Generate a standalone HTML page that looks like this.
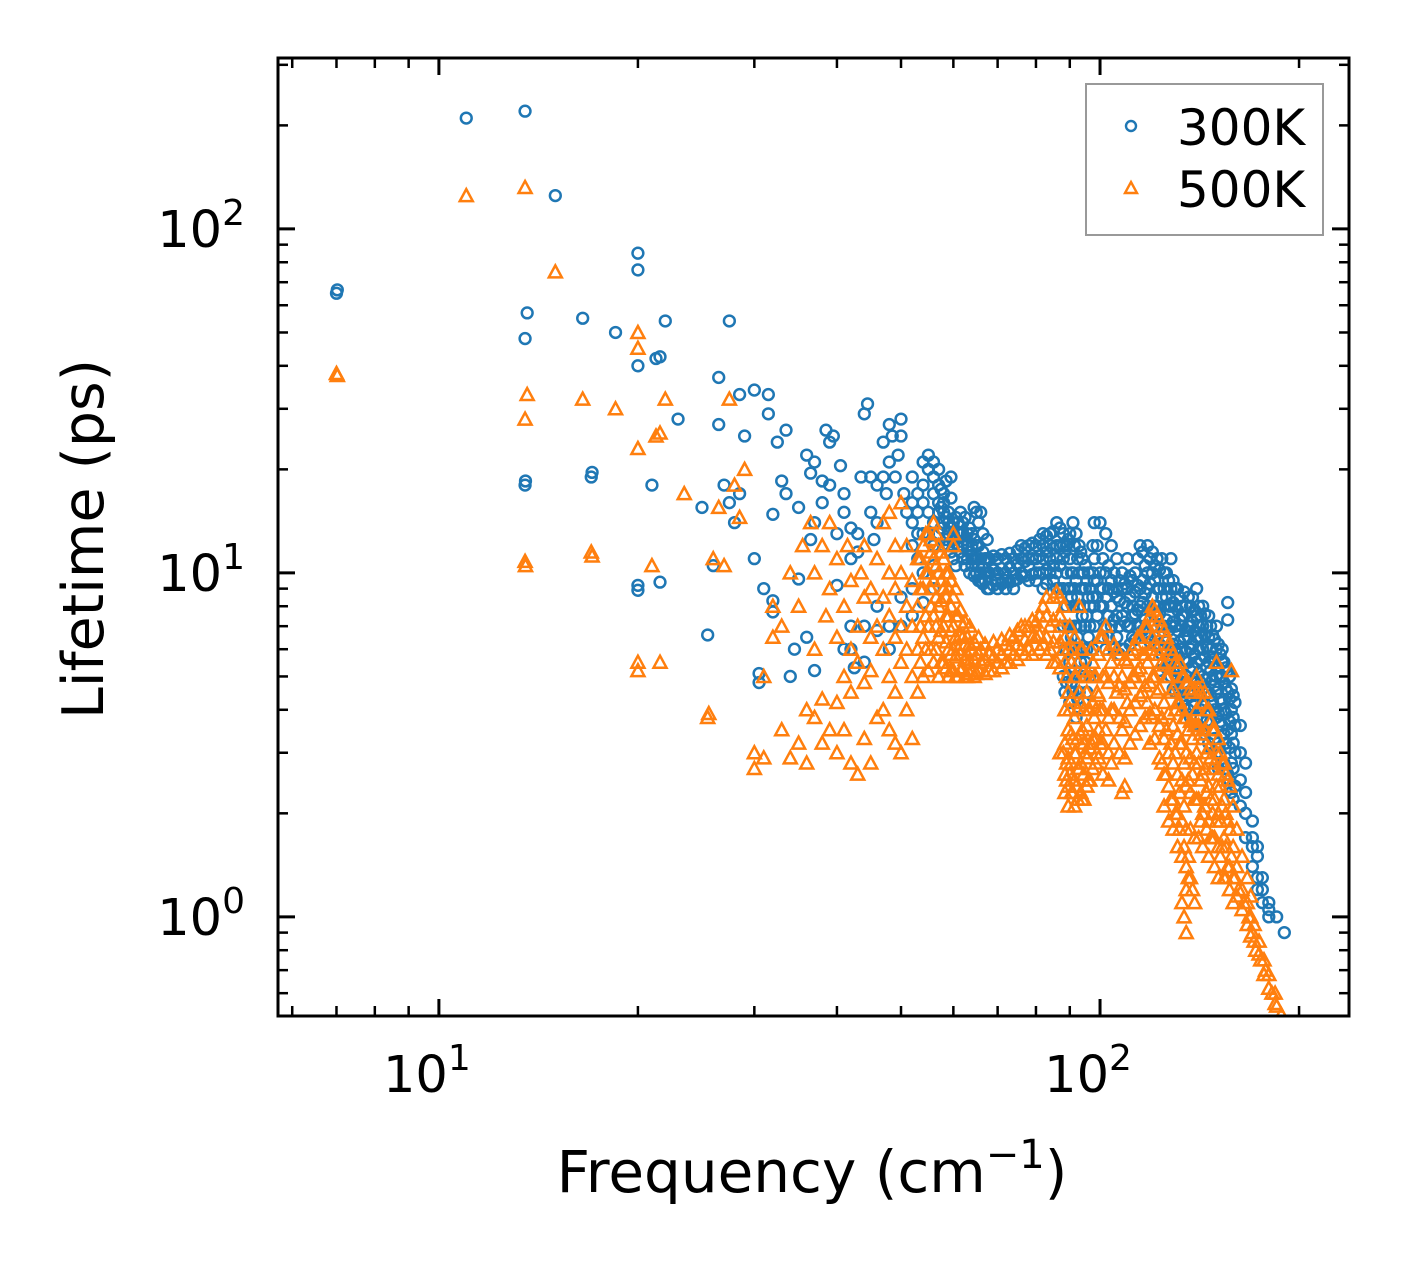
<!DOCTYPE html>
<html><head><meta charset="utf-8"><style>
html,body{margin:0;padding:0;background:#fff;}
svg{display:block;font-family:"DejaVu Sans","Liberation Sans",sans-serif;}
</style></head><body>
<svg id="chart" width="1408" height="1265" viewBox="0 0 1408 1265" xmlns="http://www.w3.org/2000/svg">
<rect width="1408" height="1265" fill="#fff"/>
<g id="marks"></g>
<g id="axes"></g>
<text x="812" y="1192" font-size="58" text-anchor="middle">Frequency (cm<tspan dy="-24" font-size="40">−1</tspan><tspan dy="24">)</tspan></text>
<text transform="translate(103,539) rotate(-90)" font-size="57" text-anchor="middle">Lifetime (ps)</text>
<g>
<rect x="1086" y="84" width="237" height="151" fill="#fff" stroke="#999" stroke-width="2"/>
<circle cx="1131" cy="126" r="5" fill="none" stroke="#1f77b4" stroke-width="2.4"/>
<text x="1177" y="145" font-size="50">300K</text>
<path d="M1131,182 L1137,193 L1125,193 Z" fill="none" stroke="#ff7f0e" stroke-width="2.4"/>
<text x="1177" y="207" font-size="50">500K</text>
</g>
</svg>
<script>
const freq300=[7,7.02,11,13.5,15,13.6,13.5,13.5,13.52,16.5,17,17.05,18.5,20,20,20,20,20,21,21.3,21.6,21.6,22,23,25,25.5,26,26.5,26.5,27,27.5,27.5,28,28.5,28.5,29,30,30,30.5,30.5,31,31.5,31.5,32,32,32,32.5,33,33.5,33.5,34,34.5,35,35,36,36,36.5,36.5,37,37,37,38,38,38.5,39,39,39.5,40,40,40.5,41,41,41,42,42,42,43,43,43.5,44,44.5,45,45,45.5,46,46,47,47,47.5,48,48,48.5,49,49.5,50,50,50.5,51,
42,42.5,44,44,46,46,48,48,50,50,52,52,54,54,56,56,
52,52,52,52,53,53,53,53,54,54,54,54,55,55,55,55,56,56,56,56,56,57,57,57,57,57,58,58,58,58,58,59,59,59,59,60,60,60,60,61,61,61,62,62,62,62,63,63,63,64,64,64,64,65,65,65,65,66,66,66,66,67,67,67,68,68,68,70,70,70,70,72,72,72,72,74,74,74,74,76,76,76,76,78,78,78,78,80,80,80,80,82,82,82,82,82,84,84,84,84,86,86,86,86,86,88,88,88,88,88,88,89,89,89,89,89,90,90,90,90,90,90,91,91,91,91,91,92,92,92,92,92,93,93,93,93,93,94,94,94,94,95,95,95,95,96,96,96,98,98,98,98,98,100,100,100,100,102,102,102,102,102,104,104,104,104,106,106,106,106,106,108,108,108,108,110,110,110,110,112,112,112,112,115,115,115,115,118,118,118,118,118,120,120,120,120,122,122,122,122,125,125,125,125,125,128,128,128,128,128,128,130,130,130,130,130,130,133,133,133,133,133,133,136,136,136,136,136,136,140,140,140,140,140,140,143,143,143,143,143,143,146,146,146,146,146,146,150,150,150,150,150,150,153,153,153,153,153,153,156,156,156,156,156,156,160,160,160,160,163,163,163,163,166,166,166,166,170,170,170,170,173,173,173,173,176,176,176,180,180,180,185,190];
const life300=[65,66.5,210,220,125,57,48,18,18.5,55,19,19.6,50,85,76,40,9.2,8.9,18,42,42.5,9.4,54,28,15.5,6.6,10.5,27,37,18,54,16,14,17,33,25,34,11,5.1,4.8,9,33,29,14.8,8.3,7.7,24,18.5,26,17,5,6,15.5,9.6,22,6.5,19.5,12.5,21,14,5.2,18.5,16,26,24,18,25,13,9.2,20.5,17,15,6,13.5,11,7,13,11.5,19,29,31,15,19,12.5,18,14,24,19,17,27,21,25,19,22,28,25,17,15,
6,5.3,7,5.5,6.8,8,7,6,8.5,7,9,7.5,8.2,10,9,10.5,
14,16,19,12,15,13,17,11,16,18,13,21,20,22,15,13,21,17,14,12,19,18,15,13,16,20,16,14,12,15,17,15,13,12,14,14,12,13,11,13,14,12,12,13,11,14,12,11,13,11,12,13,10.5,15,11,10,12,15,10,11,9.5,10,11,9.5,10,9,11,9.5,10,11,9,9.5,10,9,11,10,9.5,11,9,11,9.8,10,12,10.5,11,9.5,12,11,10,12,9.5,12,10,11,13,9,13,11,10,12,14,12,10,11,9,13,12,11,9,7,5,12,10,8,6,4.8,13,11,9,7,5.5,4.2,14,10,8,6,4.5,13,9.5,7,5,3.8,12,10,8,6,4.5,11,9,7.5,5,10.5,9,7,5.5,10,8.5,6.5,14,11,9.5,8,7,14,10,9,8,13,10,8.5,7,6,12,9.5,8,7,11,9,8.5,7.5,6.5,10,9,7.5,6,9,8,7,11,9.5,8,6.5,7.5,12,9,8,7,12,10,9,8,6.5,11.5,10,8.5,7,11,9,8,7.5,10,9,8,7,6,11,9,8,7,6,5,9,8,7,6,5.5,4.5,8,7.5,7,6,5,4.2,8.5,7,6.5,5.5,4.5,4,9,7.5,6.5,5.5,4.8,3.8,8,7,6,5,4.2,3.5,7.5,6.5,5.5,4.5,4,3.2,7,6,5,4.5,3.8,3,6,5.5,5,4.2,3.6,2.8,8.2,7.3,5.2,4.5,3.5,2.6,4.2,3.6,3,2.4,3.6,3,2.5,2.1,2.8,2.3,2,1.7,1.9,1.7,1.6,1.4,1.6,1.5,1.3,1.2,1.3,1.2,1.1,1.1,1.05,1,1,0.9];
const denseFreq300=[57.5,58.5,59.5,60.5,61.5,62.5,63.5,64.5,65.5,66.5,67.5,69,71,73,75,77,79,81,83,85,87,88.5,89.5,90.5,91.5,92.5,93.5,94.5,95.5,96.5,97.5,99,101,103,105,107,109,111,113,114,116,117,119,121,123,124,126,127,129,131,132,134,135,137,138,139,141,142,144,145,147,148,149,151,152,154,155,157,158,159];
const denseLife300=[[13.5,15.5,17.5],[12.5,14.5,18.5],[11.5,13.5,16.5,19],[12.5,14.5,10.5],[11.5,13,15],[10.5,12.5,14.5],[10,11.5,13.5],[9.8,11,12.5,15.5],[9.5,10.5,12,14],[9.3,10.3,11.5,13],[9,10,11,12.5],[9.2,10.2,11.2],[9.3,10.3,11.3],[9.4,10.4,11.4],[9.6,10.6,11.6],[9.8,10.8,11.8],[9.9,11,12.2],[10,11.2,12.5],[10.2,11.5,12.8,9.3],[10.5,11.8,13.2,9.5],[10.5,12,13.5,9],[8,6,4.5,11.5],[9,7,5,12.5],[8.5,6.5,4.8,10],[9,7,5.2,12],[8.5,6.5,4.3,11],[9,7,5.5,11.5],[8,6,4.2,10],[9.5,7.5,6,4.5],[9,8,7,5],[10,8.5,6,12],[12,9.5,8.5,7.5],[11,9,8,6.5],[10.5,9,7.5,6.5],[10,8.8,7.3,6],[9.5,8.3,7,5.8],[9.3,8.2,7.2,6],[9.8,8.5,7,6.2],[10,8.8,7.6,6.4],[11,9.2,7.8],[11.5,9.5,8.2,6.8],[10.5,8.7,7.3],[11,9.3,7.8,6.3],[10.5,9.5,8,6.5],[10.2,9,7.6,6.2,5.2],[11,8.5,7,5.8],[10,8.5,7.3,6.3,5.3],[9.5,8,6.8,5.5],[9.5,8.2,7.2,6.2,5.2,4.6],[9,7.8,6.8,5.8,4.9],[8.5,7.3,6.3,5.3,4.5],[8.8,7.5,6.5,5.6,4.8,4.1],[8,6.8,5.9,5,4.3],[8,7,6,5.2,4.4,3.8],[8.5,7.2,6.2,5.3,4.5],[7.8,6.8,5.8,4.9,4.1],[8,7,6,5.1,4.4,3.6],[7.5,6.5,5.6,4.8,4],[7.6,6.6,5.7,4.9,4.1,3.4],[7,6.1,5.3,4.5,3.7],[7,6,5.2,4.4,3.7,3.1],[6.6,5.7,4.9,4.2,3.5],[6.4,5.5,4.7,4,3.3],[6.2,5.3,4.6,3.9,3.2,2.7],[5.8,5,4.3,3.7,3],[5.5,4.8,4,3.4,2.8],[5.3,4.6,3.9,3.2,2.7],[5,4.3,3.7,3.1,2.5],[4.6,4,3.4,2.8,2.3],[4.4,3.8,3.2,2.7,2.2]];
const freq500=[7,7.02,11,13.5,15,13.6,13.5,13.5,13.52,16.5,17,17.05,18.5,20,20,20,20,20,21,21.3,21.6,21.6,22,23.5,25.5,25.6,26,26.5,27,27.5,28,28.5,29,
30,30,31,31,32,32,33,33,34,34,35,35,35.5,36,36,36.5,37,37,37,38,38,38,38.5,39,39,39,40,40,40,40,41,41,41,41.5,42,42,42,42,43,43,43,43.5,44,44,44,44,45,45,45,45,46,46,46,47,47,47,47,48,48,48,48,48,49,49,49,49,49,50,50,50,50,50,51,51,51,51,52,52,52,52,53,53,53,53,54,54,54,54,55,55,55,55,56,56,56,56,56,57,57,57,57,57,58,58,58,58,59,59,59,59,59,60,60,60,60,60,60,61,61,61,62,62,62,63,63,63,64,64,65,66,66,68,68,70,70,72,72,74,74,76,76,78,78,80,80,82,82,84,84,86,86,87,88,88,88,89,89,89,90,90,90,91,91,91,92,92,92,93,93,93,94,94,94,95,95,96,96,97,97,98,98,99,99,100,100,100,102,102,102,104,104,104,106,106,108,108,108,110,110,112,112,114,114,116,116,118,118,118,120,120,120,120,122,122,122,124,124,124,124,126,126,126,126,128,128,128,128,130,130,130,130,132,132,132,132,132,134,134,134,134,134,136,136,136,136,136,138,138,138,138,140,140,140,140,142,142,142,142,145,145,145,145,148,148,148,148,150,150,150,150,153,153,153,156,156,156,158,158,160,162,165,168,170,172,175,178,182,185,188,133,134,135,140];
const life500=[38,37.5,125,132,75,33,28,10.8,10.5,32,11.5,11.2,30,50,45,23,5.5,5.2,10.5,25,25.5,5.5,32,17,3.8,3.9,11,15.5,10.5,32,18,14.5,20,
3,2.7,2.9,5,8,6.5,3.5,7,10,2.9,3.2,8,12,4,2.8,14,3.8,6,10,4.3,3.2,12,7.5,3.5,9,14,4.2,3,6.5,11,5,3.5,8,12,2.8,4.5,6,9.5,2.6,5.5,7,10,3.3,4.8,8.5,12,2.8,5.2,6.5,9,3.8,7,11,4,6,8.5,14,3.5,5,7.5,10,15,3.2,4.5,6.5,9,12,3,5.5,7,10,16,4,6,8,12,3.3,5,7,9.5,4.5,6,8,11,5,6.5,9,12,5.2,7,10,13,5.5,7.5,9.5,11,14,5,6.5,8,10,12,5.5,7,9,11,5,6,7.5,9,10,5.2,6,7,8.5,12,13,5,6,7.5,5.3,6.5,7,5,5.8,6.5,5.2,6,5.1,5.5,6,5.2,5.8,5.5,6,5.5,6.2,5.8,6.5,6,7,6,7,6.5,7.2,6.2,8,6,7,5.5,8.8,7,6,8,3,5,2.8,2.5,7,4,2.6,6,3.3,2.3,5,3,2.4,8,4.5,2.7,6,3.5,2.2,5,3,4,2.5,6,3.2,5,3.8,4.5,3,6.5,4,3.2,7,5,3.5,5.5,4,2.8,6,4.5,5,3.5,2.3,5.5,4.2,6,5,6.5,5.2,5.8,4.5,7,5.5,4.2,8,6.5,5,3.8,7.5,6,4.5,7,5.5,3.8,2.8,6.5,5,3.5,2.6,6,4.5,3.2,2.2,5.5,4,3,2,5.5,4.2,3.2,2.3,1.8,5,3.8,2.8,2.1,1.6,4.8,3.5,2.5,1.5,1.3,4.5,3.3,2.6,1.2,5,4,3,2.2,4.5,3.4,2.5,1.9,4,3,2.3,1.8,3.5,2.7,2,1.7,5.5,3,2.4,1.9,2.8,2.1,1.6,2.5,1.9,1.4,5.2,1.5,1.3,1.2,1.1,1,0.9,0.8,0.75,0.7,0.6,0.55,0.52,1.1,1,0.9,3.6];
const denseFreq500=[53.5,54.5,55.5,56.5,57.5,58.5,59.5,60.5,61.5,62.5,63.5,64.5,65.5,67,69,71,73,75,77,79,81,83,85,87,88.5,89.5,90.5,91.5,92.5,93.5,94.5,95.5,96.5,97.5,98.5,99.5,101,103,105,107,109,111,113,115,117,119,121,123,125,127,129,131,133,135,137,139,141,143,144,146,147,149,151,152,154,155,157,159,161,164,167,169,171,174,177,180,184];
const denseLife500=[[5.5,7,9,11],[6,7.5,10,13],[6,8,9,11.5,12.5],[6,7,8.5,10.5,13],[5.5,6.8,8.3,9.5,11.5],[5.3,6.3,7.5,8.5,10],[5.2,5.8,6.8,8,9.5],[5,5.7,6.5,7.5,9],[5.2,5.8,6.6,7.8],[5,5.6,6.2,7.2],[5.1,5.5,6.2,7],[5,5.6,6.3],[5.2,5.8,6.5],[5.1,5.6,6.2],[5.2,5.7,6.3],[5.3,5.8,6.4],[5.5,6,6.6],[5.6,6.2,6.8],[5.8,6.4,7],[5.8,6.5,7.3],[6,6.6,7.5],[5.8,6.5,7.5,8.5],[5.5,6.3,7.3,8.5],[5.3,6.3,7.5,8.5,3],[6.5,5.5,4,3.2,2.6,2.3],[6,4.5,3.5,2.9,2.4,2.1],[5.5,4.3,3.4,2.8,2.3],[6.5,5,3.8,3,2.5,2.1],[5.5,4,3.3,2.7,2.2],[6,4.2,3.4,2.8,2.3],[5.2,4,3.2,2.6,2.2],[4.5,3.6,2.9,2.4],[5,4,3.1,2.5],[5.5,4.2,3.3,2.7],[5,4,3.3,2.8],[5.8,4.4,3.5,2.9],[6.5,5,4,3.2,2.6],[6,4.8,3.8,3,2.5],[6.2,5,4,3.2],[5.8,4.7,3.8,3],[5.6,4.6,3.7,2.9,2.4],[5.8,4.8,4,3.2],[6.2,5,4.2,3.4],[6.5,5.3,4.4,3.6],[7,5.8,4.7,3.8],[7.5,6,4.8,3.9,3.2],[7.8,6.2,5,4,3.3],[7.3,5.8,4.6,3.6,2.9],[6.8,5.4,4.2,3.3,2.6,2.1],[6.2,5,3.9,3,2.4,1.9],[5.8,4.6,3.6,2.8,2.2,1.8],[5.3,4.2,3.4,2.6,2,1.6],[5,4,3.2,2.5,1.9,1.5],[4.8,3.8,3,2.4,1.8,1.4,1.2],[4.6,3.7,2.9,2.3,1.8,1.3],[4.6,3.6,2.8,2.2,1.7,1.1],[4.6,3.6,2.8,2.2,1.7],[4.2,3.3,2.6,2,1.6],[4.5,3.5,2.7,2.1],[4,3.1,2.4,1.9,1.5],[3.7,2.9,2.2,1.7],[3.5,2.8,2.2,1.7,1.4],[3.3,2.6,2,1.6,1.3],[3,2.4,1.9,1.5],[2.8,2.2,1.7,1.3],[2.6,2,1.6,1.3],[2.4,1.8,1.4,1.2],[2.1,1.6,1.3,1.1],[1.8,1.4,1.15],[1.5,1.2,1.05],[1.3,1.1,0.95],[1.15,1,0.88],[0.95,0.85],[0.85,0.78],[0.75,0.68],[0.68,0.62],[0.6,0.56]];
const xMajor=[10,100], xMajorExp=["1","2"];
const yMajor=[1,10,100], yMajorExp=["0","1","2"];
const xMinor=[6,7,8,9,20,30,40,50,60,70,80,90,200];
const yMinor=[0.6,0.7,0.8,0.9,2,3,4,5,6,7,8,9,20,30,40,50,60,70,80,90,200,300];

const L=278,R=1349,T=58,B=1016;
const xLo=Math.log10(5.71),xHi=Math.log10(238),yLo=Math.log10(0.515),yHi=Math.log10(314);
const xs=v=>L+(Math.log10(v)-xLo)/(xHi-xLo)*(R-L);
const ys=v=>B-(Math.log10(v)-yLo)/(yHi-yLo)*(B-T);
const NS="http://www.w3.org/2000/svg";
const marks=document.getElementById('marks');
const axes=document.getElementById('axes');
function mk(tag,attrs,parent){const e=document.createElementNS(NS,tag);for(const k in attrs)e.setAttribute(k,attrs[k]);parent.appendChild(e);return e;}
function expand(fs,ls,dfs,dls){const F=fs.slice(),V=ls.slice();dfs.forEach((f,i)=>dls[i].forEach(v=>{F.push(f);V.push(v);}));return [F,V];}
const [F3,V3]=expand(freq300,life300,denseFreq300,denseLife300);
const [F5,V5]=expand(freq500,life500,denseFreq500,denseLife500);

const clip=mk('clipPath',{id:'pc'},marks);
mk('rect',{x:L,y:T,width:R-L,height:B-T},clip);
const g3=mk('g',{'clip-path':'url(#pc)'},marks);


for(let i=0;i<F3.length;i++){
  const c=mk('circle',{cx:xs(F3[i]),cy:ys(V3[i]),r:5.4,fill:'none',stroke:'#1f77b4','stroke-width':2.5},g3);
  
  
}
const g5=mk('g',{'clip-path':'url(#pc)'},marks);


for(let i=0;i<F5.length;i++){
  const x=xs(F5[i]),y=ys(V5[i]);
  const p=mk('path',{d:`M${x},${y-6.5} L${x+6.5},${y+5.5} L${x-6.5},${y+5.5} Z`,fill:'none',stroke:'#ff7f0e','stroke-width':2.5},g5);
  
  
}

const fr=mk('rect',{x:L,y:T,width:R-L,height:B-T,fill:'none',stroke:'#000','stroke-width':3},axes);


function tick(x1,y1,x2,y2,w){mk('line',{x1,y1,x2,y2,stroke:'#000','stroke-width':w},axes);}
xMajor.forEach((v,i)=>{const x=xs(v);tick(x,B,x,B-17,3);tick(x,T,x,T+17,3);
  const t=mk('text',{x:x-12,y:1092,'font-size':51,'text-anchor':'middle'},axes);
  
  
  t.innerHTML='10<tspan dy="-22" font-size="36">'+xMajorExp[i]+'</tspan>';});
xMinor.forEach(v=>{const x=xs(v);if(x>L&&x<R){tick(x,B,x,B-10,2.5);tick(x,T,x,T+10,2.5);}});
yMajor.forEach((v,i)=>{const y=ys(v);tick(L,y,L+17,y,3);tick(R,y,R-17,y,3);
  const t=mk('text',{x:245,y:y+18,'font-size':51,'text-anchor':'end'},axes);
  
  
  t.innerHTML='10<tspan dy="-22" font-size="36">'+yMajorExp[i]+'</tspan>';});
yMinor.forEach(v=>{const y=ys(v);if(y>T&&y<B){tick(L,y,L+10,y,2.5);tick(R,y,R-10,y,2.5);}});
</script>
</body></html>
